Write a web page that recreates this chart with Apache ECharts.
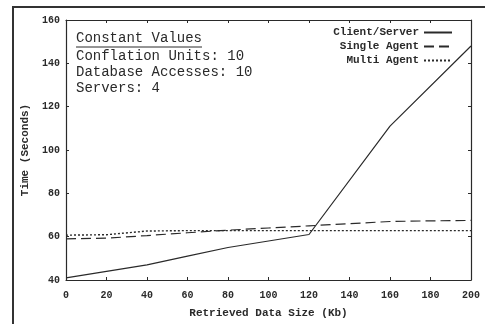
<!DOCTYPE html>
<html><head><meta charset="utf-8">
<script src="https://cdn.jsdelivr.net/npm/echarts@6/dist/echarts.min.js"></script>
<style>html,body{margin:0;padding:0;background:#fff}#c{width:485px;height:324px}</style>
</head><body><div id="c"></div>
<script>
var xTicks = [0, 20, 40, 60, 80, 100, 120, 140, 160, 180, 200];
var clientX = [0, 20, 40, 60, 80, 100, 120, 160, 200];
var clientServer = [41, 44, 47, 51, 55, 58, 61, 111, 148];
var singleX = [0, 20, 40, 60, 80, 100, 120, 140, 160, 180, 200];
var singleAgent = [59, 59.3, 60.5, 61.8, 63, 64, 65, 66, 67, 67.3, 67.5];
var multiX = [0, 20, 40, 60, 80, 100, 120, 140, 160, 180, 200];
var multiAgent = [60.7, 60.9, 62.6, 62.8, 62.8, 62.8, 62.8, 62.8, 62.8, 62.8, 62.8];
var constText = ['Conflation Units: 10', 'Database Accesses: 10', 'Servers: 4'];

function pairs(xs, ys){ return xs.map(function(x,i){ return [x, ys[i]]; }); }
var mono = 'Liberation Mono';
var ink = '#2a2a2a';
var chart = echarts.init(document.getElementById('c'));
var axisCommon = {
  axisLine:{show:true, onZero:false, lineStyle:{color:ink, width:1.2}},
  axisTick:{show:true, inside:true, length:3, lineStyle:{color:ink}},
  splitLine:{show:false}
};
chart.setOption({
  animation:false,
  backgroundColor:'#fff',
  grid:{left:66, top:20, right:14, bottom:39, show:false},
  legend:{
    right:27, top:22, orient:'vertical', align:'right', itemGap:3,
    itemWidth:28, itemHeight:10,
    itemStyle:{opacity:0},
    textStyle:{fontFamily:mono, fontWeight:'bold', fontSize:11, color:ink},
    data:['Client/Server','Single Agent','Multi Agent']
  },
  xAxis:[Object.assign({type:'value', min:0, max:200, interval:20,
    name:'Retrieved Data Size (Kb)', nameLocation:'middle', nameGap:28,
    nameTextStyle:{fontFamily:mono, fontWeight:'bold', fontSize:11, color:ink},
    axisLabel:{fontFamily:mono, fontWeight:'bold', fontSize:10, color:ink, margin:10,
      formatter:function(v){ return xTicks.indexOf(v)>=0 ? String(v) : ''; }}
  }, axisCommon),
  Object.assign({type:'value', min:0, max:200, interval:20, position:'top', axisLabel:{show:false}}, axisCommon)],
  yAxis:[Object.assign({type:'value', min:40, max:160, interval:20,
    name:'Time (Seconds)', nameLocation:'middle', nameGap:33, nameRotate:90,
    nameTextStyle:{fontFamily:mono, fontWeight:'bold', fontSize:11, color:ink},
    axisLabel:{fontFamily:mono, fontWeight:'bold', fontSize:10, color:ink, margin:6}
  }, axisCommon),
  Object.assign({type:'value', min:40, max:160, interval:20, position:'right', axisLabel:{show:false}}, axisCommon)],
  series:[
    {name:'Client/Server', type:'line', symbol:'none', data:pairs(clientX, clientServer),
      lineStyle:{color:ink, width:1.2, type:'solid'}, itemStyle:{color:ink}},
    {name:'Single Agent', type:'line', symbol:'none', data:pairs(singleX, singleAgent),
      lineStyle:{color:ink, width:1.2, type:[10,5]}, itemStyle:{color:ink}},
    {name:'Multi Agent', type:'line', symbol:'none', data:pairs(multiX, multiAgent),
      lineStyle:{color:ink, width:1.4, type:[2,2]}, itemStyle:{color:ink}}
  ],
  graphic:[
    {type:'rect', shape:{x:13, y:7, width:490, height:340}, style:{fill:'none', stroke:'#333', lineWidth:2}},
    {type:'text', left:76, top:31, style:{text:'Constant Values', font:'14px "Liberation Mono"', fill:ink}},
    {type:'line', shape:{x1:76, y1:47, x2:202, y2:47}, style:{stroke:ink, lineWidth:1}},
    {type:'text', left:76, top:48, style:{text:constText.join('\n'), font:'14px "Liberation Mono"', lineHeight:16, fill:ink}}
  ]
});
</script></body></html>
